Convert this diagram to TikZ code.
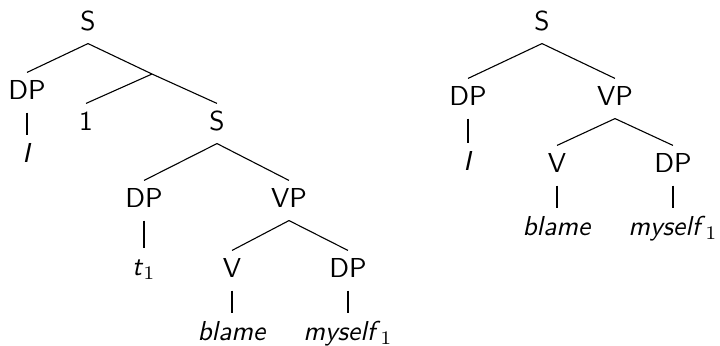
\documentclass[tikz,border=0pt]{standalone}
\begin{document}
\begin{tikzpicture}[x=0.365pt,y=-0.365pt,
  tn/.style={anchor=base,inner sep=0pt,text height=9.5pt,text depth=4.75pt,font=\sffamily},
  branch/.style={line width=0.4pt}]
\useasboundingbox (0,0) rectangle (720,345);

% Tree with the raised subject and its index
\node[tn] (s1)  at (88,30)   {S};
\node[tn] (dp1) at (27,99)   {DP};
\node[tn] (i1)  at (27,162)  {\textit{I}};
\coordinate (e1) at (152,74);
\node[tn] (one) at (86,130)  {1};
\node[tn] (s2)  at (217,130) {S};
\node[tn] (dp2) at (144,207) {DP};
\node[tn] (t1)  at (144,275) {\textit{t}$_1$};
\node[tn] (vp1) at (289,207) {VP};
\node[tn] (v1)  at (232,277) {V};
\node[tn] (dp3) at (348,277) {DP};
\node[tn] (bl1) at (232,340) {\textit{blame}};
\node[tn] (my1) at (348,340) {\textit{myself}$_1$};

\draw[branch] (s1.south) -- (dp1.north);
\draw[branch] (s1.south) -- (e1);
\draw[branch] (e1) -- (one.north);
\draw[branch] (e1) -- (s2.north);
\draw[branch] (dp1.south) -- (i1.north);
\draw[branch] (s2.south) -- (dp2.north);
\draw[branch] (s2.south) -- (vp1.north);
\draw[branch] (dp2.south) -- (t1.north);
\draw[branch] (vp1.south) -- (v1.north);
\draw[branch] (vp1.south) -- (dp3.north);
\draw[branch] (v1.south) -- (bl1.north);
\draw[branch] (dp3.south) -- (my1.north);

% Plain tree
\node[tn] (s3)  at (542,30)  {S};
\node[tn] (dp4) at (468,105) {DP};
\node[tn] (vp2) at (615,105) {VP};
\node[tn] (i2)  at (468,170) {\textit{I}};
\node[tn] (v2)  at (557,172) {V};
\node[tn] (dp5) at (673,172) {DP};
\node[tn] (bl2) at (557,235) {\textit{blame}};
\node[tn] (my2) at (673,235) {\textit{myself}$_1$};

\draw[branch] (s3.south) -- (dp4.north);
\draw[branch] (s3.south) -- (vp2.north);
\draw[branch] (dp4.south) -- (i2.north);
\draw[branch] (vp2.south) -- (v2.north);
\draw[branch] (vp2.south) -- (dp5.north);
\draw[branch] (v2.south) -- (bl2.north);
\draw[branch] (dp5.south) -- (my2.north);
\end{tikzpicture}
\end{document}
